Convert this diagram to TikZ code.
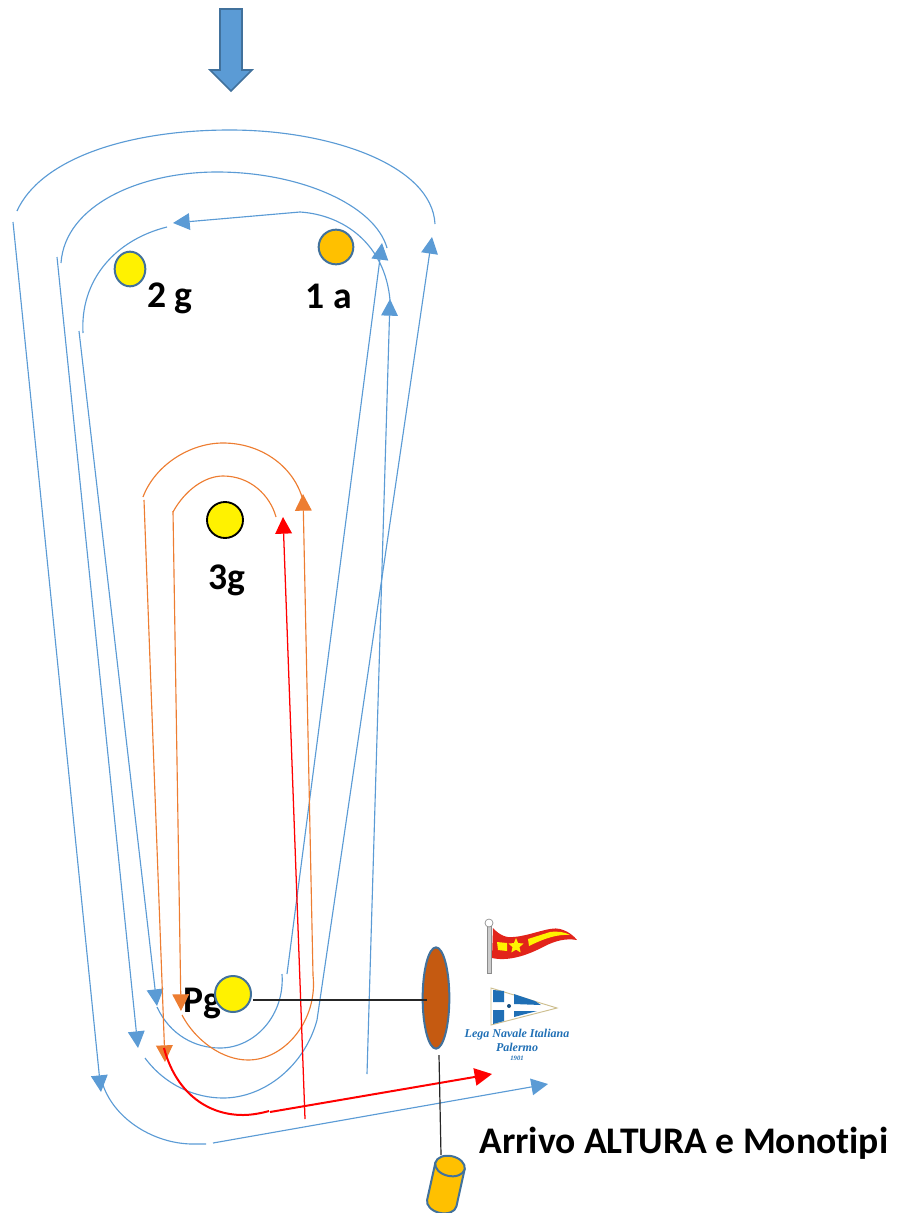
\documentclass[tikz,border=0pt]{standalone}
\usepackage{fontspec}
\setmainfont[Ligatures=NoCommon]{Carlito}
\newfontfamily\logofont{Liberation Serif}
\usetikzlibrary{arrows.meta,shapes.geometric}
\definecolor{cblue}{HTML}{5B9BD5}
\definecolor{cedge}{HTML}{41719C}
\definecolor{corange}{HTML}{ED7D31}
\definecolor{cbrown}{HTML}{C55A11}
\definecolor{cgold}{HTML}{FFC000}
\definecolor{clogo}{HTML}{1F6FB5}
\definecolor{cflag}{HTML}{E2231A}
\definecolor{cbeige}{HTML}{CDBE8E}
\tikzset{
  bluepath/.style={draw=cblue,line width=0.85pt},
  orangepath/.style={draw=corange,line width=0.85pt},
  redthin/.style={draw=red,line width=0.95pt},
  redthick/.style={draw=red,line width=1.5pt},
  headed/.style={-{Triangle[length=12.5pt,width=12.5pt]}},
  buoy/.style={draw=cedge,line width=1.5pt,inner sep=0pt},
  lab/.style={font=\bfseries\fontsize{28.2}{28.2}\selectfont,inner sep=0pt,text=black},
  logotext/.style={text=clogo,inner sep=0pt,font=\logofont\bfseries\itshape\fontsize{9}{9}\selectfont},
  blackline/.style={draw=black!85,line width=0.9pt}
}
\begin{document}
\begin{tikzpicture}[x=0.75pt,y=-0.75pt]
\useasboundingbox (0,0) rectangle (901,1213);
% wind arrow
\draw[fill=cblue,draw=cedge,line width=1.2pt] (220,9) -- (242,9) -- (242,70) -- (252,70) -- (231,91) -- (210,70) -- (220,70) -- cycle;
% labels under everything
\node[lab] (l2g) at (170,298) {2 g};
\node[lab] (l1a) at (329,296) {1 a};
\node[lab] (l3g) at (227,580) {3g};
\node[lab] (lpg) at (202,1003) {Pg};
\node[lab,anchor=west] (arrivo) at (479,1143) {Arrivo ALTURA e Monotipi};
% coordinates
\coordinate (a1) at (17,211);   \coordinate (a2) at (230,130);  \coordinate (a3) at (435,224);
\coordinate (b1) at (61,263);   \coordinate (b2) at (217,172);  \coordinate (b3) at (387,248);
\coordinate (c1) at (83,333);   \coordinate (c2) at (167,227);
\coordinate (c3) at (300,212);  \coordinate (c4) at (173,223);  \coordinate (c5) at (390,300);
\coordinate (d1) at (13,222);   \coordinate (d2) at (101,1092);
\coordinate (e1) at (57,257);   \coordinate (e2) at (138,1048);
\coordinate (f1) at (79,331);   \coordinate (f2) at (157,1006);
\coordinate (u1) at (157,1007); \coordinate (u2) at (220,1048); \coordinate (u3) at (282,974);
\coordinate (u4) at (287,974);  \coordinate (u5) at (382,243);
\coordinate (v1) at (145,1058); \coordinate (v2) at (223,1098); \coordinate (v3) at (317,1020); \coordinate (v4) at (432,237);
\coordinate (w1) at (103,1085); \coordinate (w2) at (193,1144); \coordinate (w3) at (206,1144);
\coordinate (w4) at (213,1143); \coordinate (w5) at (548,1084);
\coordinate (s1) at (367,1074); \coordinate (s2) at (390,299);
\coordinate (o1) at (143,497);  \coordinate (o2) at (223,443);  \coordinate (o3) at (302,497);
\coordinate (p1) at (173,512);  \coordinate (p2) at (223,476);  \coordinate (p3) at (276,517);
\coordinate (q1) at (144,500);  \coordinate (q2) at (165,1062);
\coordinate (r1) at (173,511);  \coordinate (r2) at (181,1011);
\coordinate (t1) at (182,1015); \coordinate (t2) at (248,1060); \coordinate (t3) at (313,975);
\coordinate (t4) at (313,975);  \coordinate (t5) at (303,494);
\coordinate (x1) at (305,1119); \coordinate (x2) at (283,517);
\coordinate (y1) at (164,1048); \coordinate (y2) at (243,1115); \coordinate (y3) at (269,1111);
\coordinate (y4) at (270,1112); \coordinate (y5) at (492,1074);
% blue paths
\draw[bluepath] (a1) .. controls (40,160) and (125,130) .. (a2) .. controls (330,130) and (432,165) .. (a3);
\draw[bluepath] (b1) .. controls (65,205) and (140,172) .. (b2) .. controls (300,172) and (375,205) .. (b3);
\draw[bluepath] (c1) .. controls (80,280) and (115,240) .. (c2);
\draw[bluepath,headed] (c3) -- (c4);
\draw[bluepath] (c3) .. controls (345,215) and (385,245) .. (c5);
\draw[bluepath,headed] (d1) -- (d2);
\draw[bluepath,headed] (e1) -- (e2);
\draw[bluepath,headed] (f1) -- (f2);
\draw[bluepath] (u1) .. controls (170,1035) and (195,1048) .. (u2) .. controls (255,1048) and (285,1015) .. (u3);
\draw[bluepath,headed] (u4) -- (u5);
\draw[bluepath,headed] (v1) .. controls (165,1085) and (195,1098) .. (v2) .. controls (265,1098) and (305,1065) .. (v3) -- (v4);
\draw[bluepath] (w1) .. controls (115,1120) and (155,1144) .. (w2) -- (w3);
\draw[bluepath,headed] (w4) -- (w5);
\draw[bluepath,headed] (s1) -- (s2);
% orange paths
\draw[orangepath] (o1) .. controls (155,465) and (190,443) .. (o2) .. controls (260,443) and (292,465) .. (o3);
\draw[orangepath] (p1) .. controls (185,490) and (205,476) .. (p2) .. controls (250,476) and (270,495) .. (p3);
\draw[orangepath,headed] (q1) -- (q2);
\draw[orangepath,headed] (r1) -- (r2);
\draw[orangepath] (t1) .. controls (195,1040) and (222,1060) .. (t2) .. controls (285,1060) and (318,1020) .. (t3);
\draw[orangepath,headed] (t4) -- (t5);
% red paths
\draw[redthin,headed] (x1) -- (x2);
\draw[redthick] (y1) .. controls (175,1090) and (205,1115) .. (y2) .. controls (252,1115) and (262,1113) .. (y3);
\draw[redthick,-{Triangle[length=13pt,width=13pt]}] (y4) -- (y5);
% buoys
\node[buoy,ellipse,fill=yellow,minimum width=23pt,minimum height=26pt] (m2g) at (130,269) {};
\node[buoy,circle,fill=cgold,minimum size=26pt] (m1a) at (336,247) {};
\node[circle,draw=black,line width=1.4pt,fill=yellow,inner sep=0pt,minimum size=27pt] (m3g) at (225,520) {};
\node[buoy,circle,fill=yellow,minimum size=27pt] (mpg) at (233,994) {};
\node[buoy,ellipse,fill=cbrown,minimum width=20pt,minimum height=76pt] (boat) at (436,998) {};
% finish lines
\coordinate (k0) at (253,1000);
\coordinate (k1) at (427,1000);
\coordinate (k2) at (439,1055);
\coordinate (k3) at (441,1155);
\draw[blackline] (k0) -- (k1);
\draw[blackline] (k2) -- (k3);
% cylinder
\begin{scope}[shift={(450,1166)},rotate=-12.5]
\draw[fill=cgold,draw=cedge,line width=1.5pt] (-15,0) -- (-15,38) arc[start angle=180,end angle=0,x radius=15,y radius=10] -- (15,0) -- cycle;
\draw[fill=cgold,draw=cedge,line width=1.5pt] (0,0) ellipse[x radius=15,y radius=10];
\end{scope}
% red pennant logo
\fill[black!20,draw=black!45,line width=0.4pt] (487,925) rectangle (491,973);
\draw[black!45,fill=white,line width=0.5pt] (489,923) circle[radius=4];
\fill[cflag] (493,928) .. controls (500,936) and (508,938) .. (513,937) .. controls (530,936) and (550,926) .. (560,929) .. controls (568,931) and (574,936) .. (577,940) .. controls (565,938) and (555,941) .. (545,946) .. controls (530,954) and (510,962) .. (492,958) -- cycle;
\fill[yellow] (497,942) -- (507,943) -- (507,951) -- (498,950) -- cycle;
\fill[yellow] (528,939) -- (550,932) .. controls (558,931) and (565,932) .. (570,935) .. controls (558,934) and (545,938) .. (529,946) -- cycle;
\node[star,star points=5,star point ratio=2.2,fill=yellow,inner sep=0pt,minimum size=12pt] (flagstar) at (516,946) {};
% white-blue pennant logo
\draw[fill=white,draw=cbeige,line width=0.7pt] (491,988) -- (557,1008) -- (491,1025) -- cycle;
\fill[clogo] (493,990) -- (504,991) -- (504,1002) -- (493,1002) -- cycle;
\fill[clogo] (493,1010) -- (504,1010) -- (504,1021) -- (493,1024) -- cycle;
\fill[clogo] (514,994) -- (535,1001) -- (541,1005) -- (514,1004) -- cycle;
\fill[clogo] (514,1011) -- (537,1011) -- (514,1017) -- cycle;
\fill[clogo!70!black] (509,1006) circle[radius=2];
\node[logotext] (lni) at (517,1035) {Lega Navale Italiana};
\node[logotext] (pal) at (517,1047) {Palermo};
\node[logotext,font=\logofont\bfseries\itshape\fontsize{5}{5}\selectfont] (yr) at (517,1058) {1901};
\end{tikzpicture}
\end{document}
